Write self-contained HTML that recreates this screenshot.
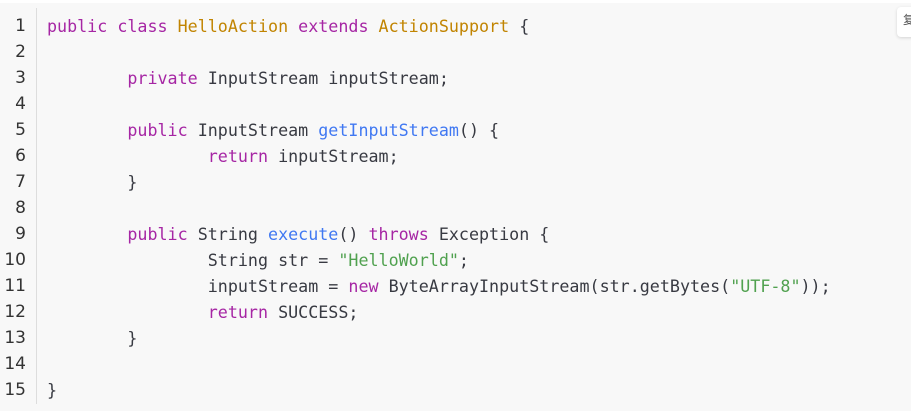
<!DOCTYPE html>
<html><head><meta charset="utf-8"><style>
html,body{margin:0;padding:0;background:#fff;width:911px;height:416px;overflow:hidden}
.box{position:absolute;left:0;top:3px;width:911px;height:408px;background:#f8f8f8}
.gut{position:absolute;left:36px;top:8px;width:1px;height:396px;background:#ddd}
.nums{position:absolute;left:0;top:13px;width:26px;text-align:right;font-family:"DejaVu Sans",sans-serif;font-size:17px;line-height:26px;color:#333}
pre{position:absolute;left:47px;top:13px;margin:0;font-family:"DejaVu Sans Mono","Liberation Mono",monospace;font-size:16.7px;line-height:26px;color:#383a42}
.k{color:#a626a4}.c{color:#c18401}.f{color:#4078f2}.s{color:#50a14f}
.btn{position:absolute;left:897px;top:7px;width:30px;height:30px;background:#fff;border-radius:4px;box-shadow:0 1px 3px rgba(0,0,0,.15);font-family:"Noto Sans CJK SC",sans-serif;font-size:12px;color:#555;padding:4px 0 0 6px;box-sizing:border-box}
</style></head><body>
<div class="box"></div>
<div class="gut"></div>
<div class="nums">1<br>2<br>3<br>4<br>5<br>6<br>7<br>8<br>9<br>10<br>11<br>12<br>13<br>14<br>15</div>
<pre><span class="k">public</span> <span class="k">class</span> <span class="c">HelloAction</span> <span class="k">extends</span> <span class="c">ActionSupport</span> {

        <span class="k">private</span> InputStream inputStream;

        <span class="k">public</span> InputStream <span class="f">getInputStream</span>() {
                <span class="k">return</span> inputStream;
        }

        <span class="k">public</span> String <span class="f">execute</span>() <span class="k">throws</span> Exception {
                String str = <span class="s">"HelloWorld"</span>;
                inputStream = <span class="k">new</span> ByteArrayInputStream(str.getBytes(<span class="s">"UTF-8"</span>));
                <span class="k">return</span> SUCCESS;
        }

}</pre>
<div class="btn">复</div>
</body></html>
